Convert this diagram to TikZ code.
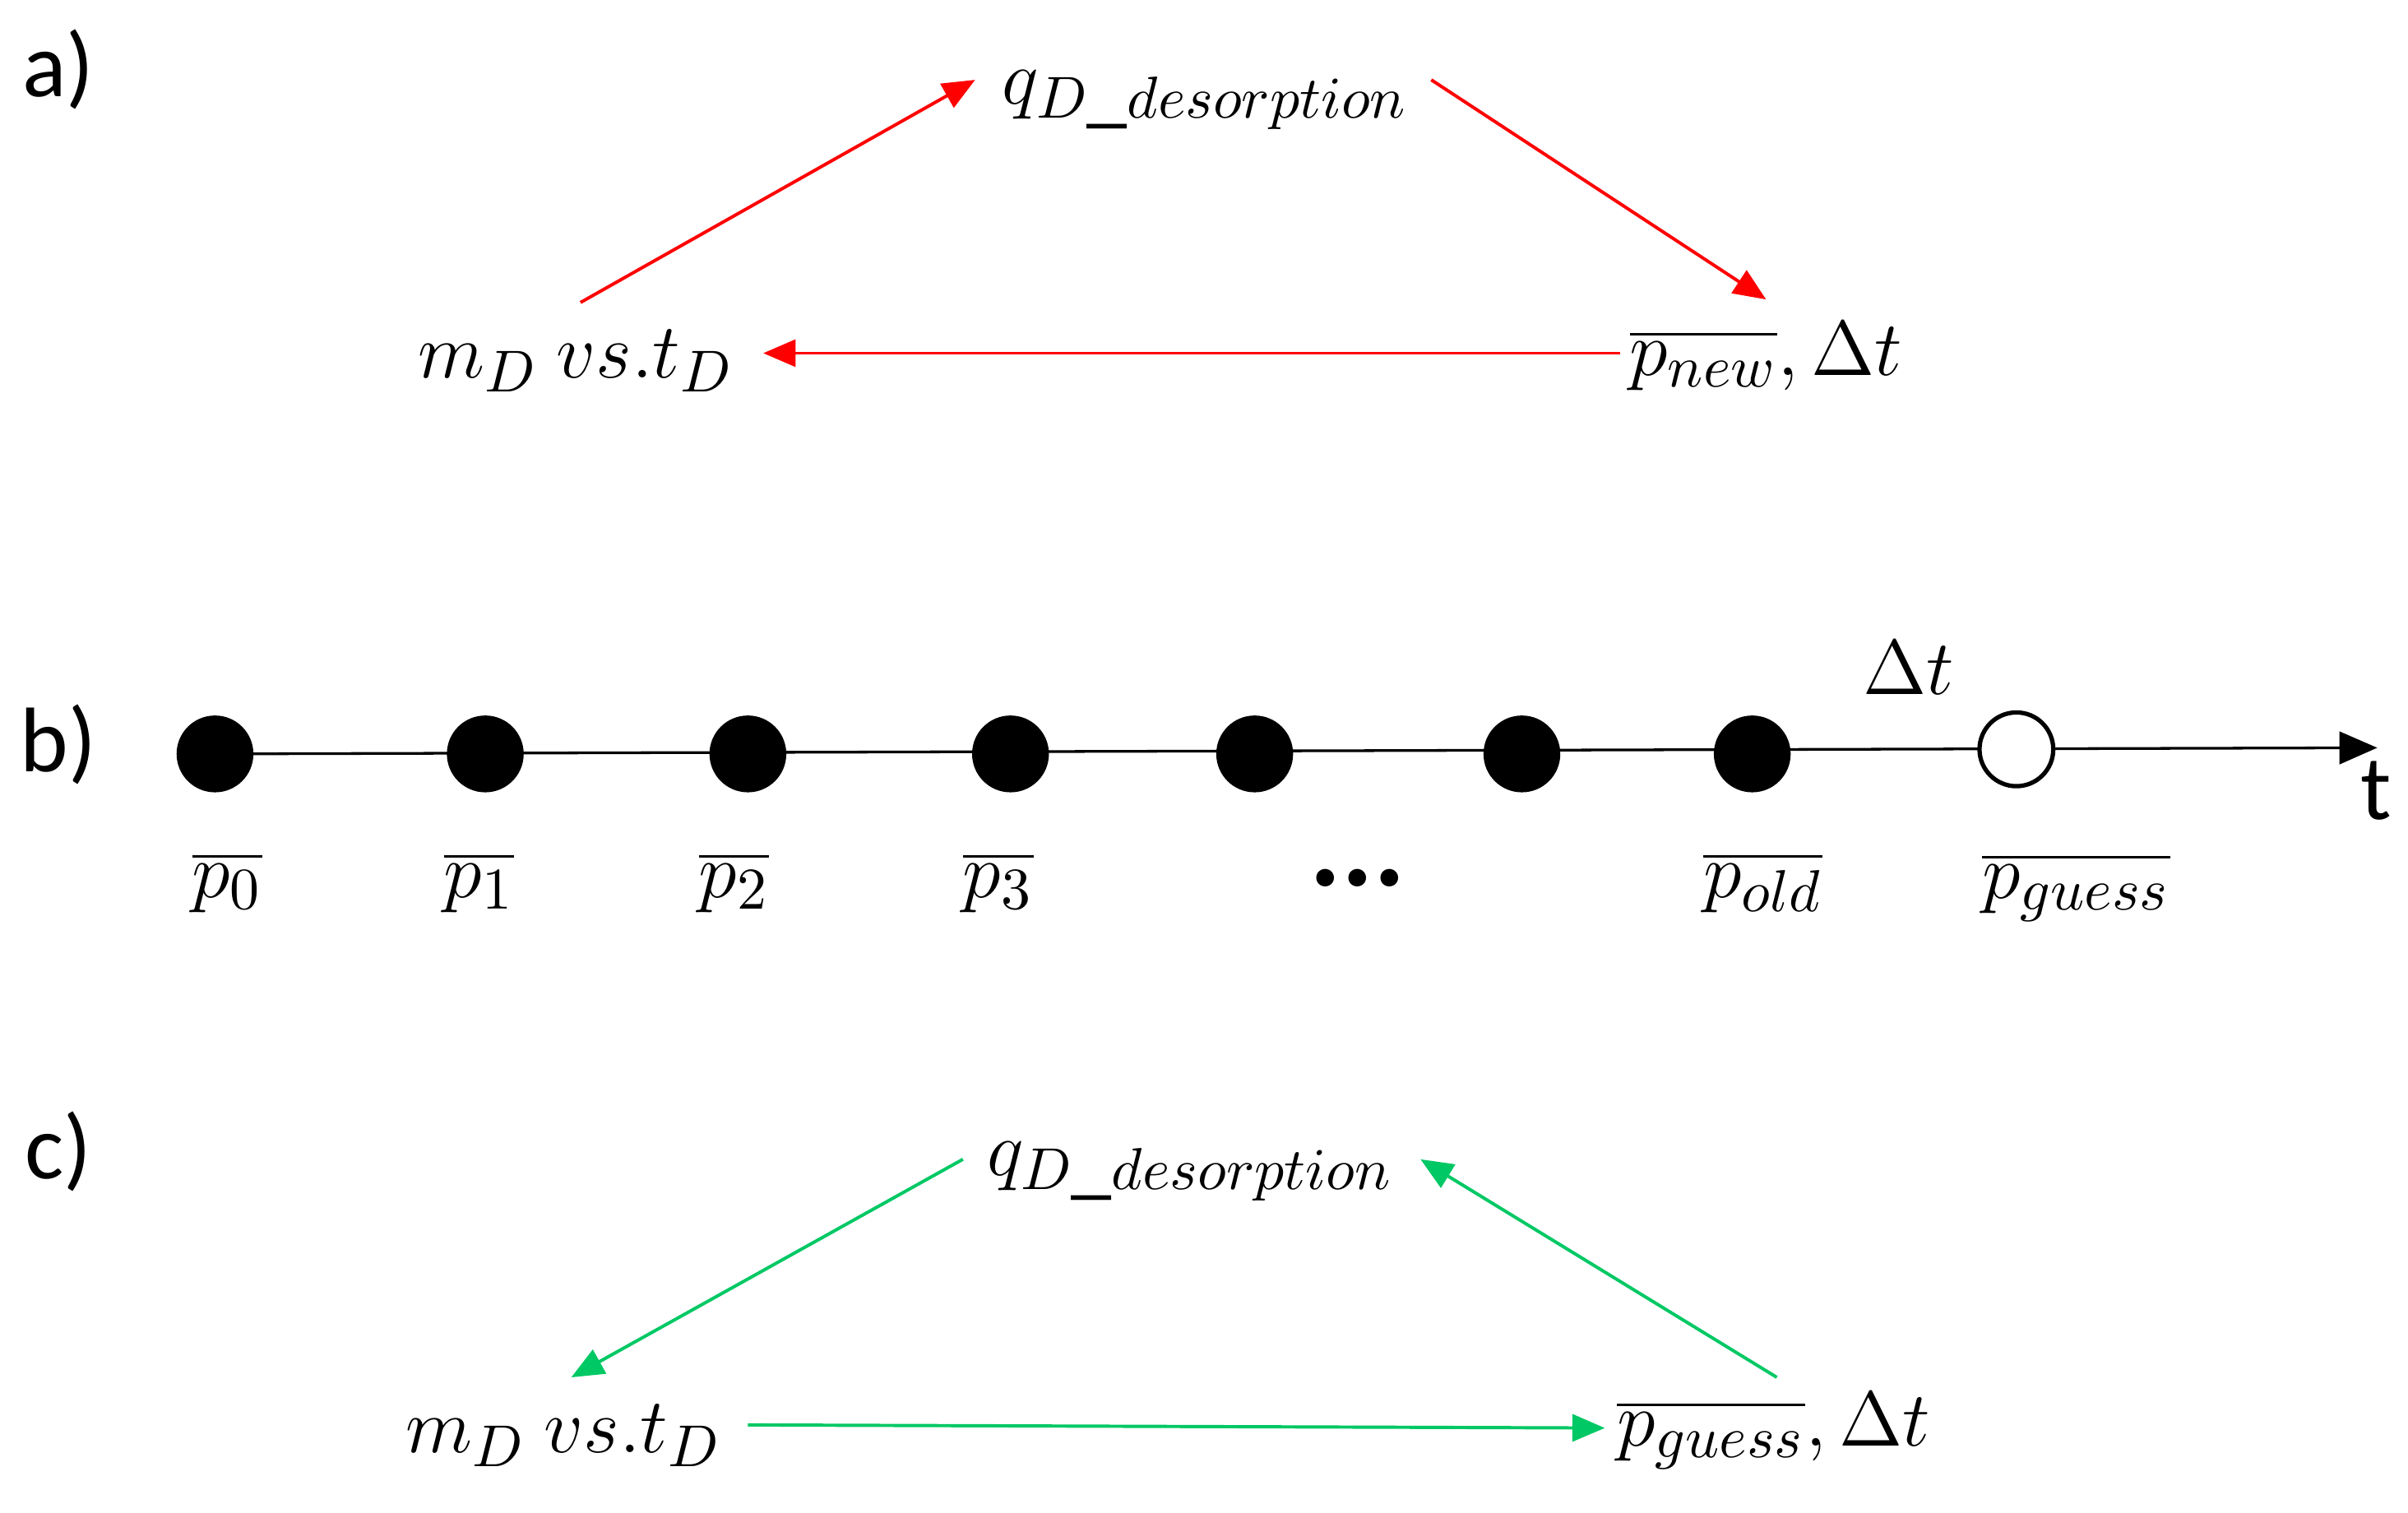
\documentclass[tikz,border=0pt]{standalone}
\usepackage{fontspec}
\setmainfont{Carlito}
\usetikzlibrary{arrows.meta}
\definecolor{gr}{RGB}{0,200,100}
\begin{document}
\begin{tikzpicture}[x=0.01cm,y=-0.01cm,
  lab/.style={font=\fontsize{17}{19}\selectfont},
  m/.style={font=\fontsize{15}{17}\selectfont},
  ra/.style={draw=red,-{Triangle[length=6pt,width=5pt]},line width=0.6pt},
  ga/.style={draw=gr,-{Triangle[length=6pt,width=5pt]},line width=0.6pt},
  dot/.style={circle,fill=black,inner sep=0,minimum size=0.5cm},
  odot/.style={circle,draw=black,fill=white,line width=0.8pt,inner sep=0,minimum size=0.48cm}]
\useasboundingbox (0,0) rectangle (1568,985);
% a
\node[lab] (la) at (38,45) {a)};
\node[m] (qa) at (785,65) {$q_{D\_desorption}$};
\node[m] (ma) at (375,235) {$m_D\ vs.t_D$};
\node[m] (pa) at (1150,232) {$\overline{p_{new}},\Delta t$};
\coordinate (a1) at (378,197); \coordinate (a2) at (635,52);
\coordinate (a3) at (932,52); \coordinate (a4) at (1150,195);
\coordinate (a5) at (1055,230); \coordinate (a6) at (497,230);
\draw[ra] (a1) -- (a2);
\draw[ra] (a3) -- (a4);
\draw[ra] (a5) -- (a6);
% b
\node[lab] (lb) at (38,485) {b)};
\coordinate (s) at (140,491); \coordinate (e) at (1548,487);
\draw[-{Triangle[length=7pt,width=6pt]},line width=0.5pt] (s) -- (e);
\foreach \x/\n in {140/d0,316/d1,487/d2,658/d3,817/d4,991/d5,1141/d6}
  \node[dot] (\n) at (\x,491) {};
\node[odot] (og) at (1313,488) {};
\node[m] at (148,575) {$\overline{p_0}$};
\node[m] at (312,575) {$\overline{p_1}$};
\node[m] at (478,575) {$\overline{p_2}$};
\node[m] at (650,575) {$\overline{p_3}$};
\node[font=\fontsize{22}{22}\selectfont\bfseries] at (884,572) {...};
\node[m] at (1148,575) {$\overline{p_{old}}$};
\node[m] at (1352,578) {$\overline{p_{guess}}$};
\node[m] at (1243,435) {$\Delta t$};
\node[lab] at (1547,515) {t};
% c
\node[lab] (lc) at (38,750) {c)};
\node[m] (qc) at (775,763) {$q_{D\_desorption}$};
\node[m] (mc) at (367,935) {$m_D\ vs.t_D$};
\node[m] (pc) at (1155,932) {$\overline{p_{guess}},\Delta t$};
\coordinate (c1) at (627,755); \coordinate (c2) at (372,897);
\coordinate (c3) at (1157,897); \coordinate (c4) at (925,755);
\coordinate (c5) at (487,928); \coordinate (c6) at (1045,930);
\draw[ga] (c1) -- (c2);
\draw[ga] (c3) -- (c4);
\draw[ga] (c5) -- (c6);
\end{tikzpicture}
\end{document}
